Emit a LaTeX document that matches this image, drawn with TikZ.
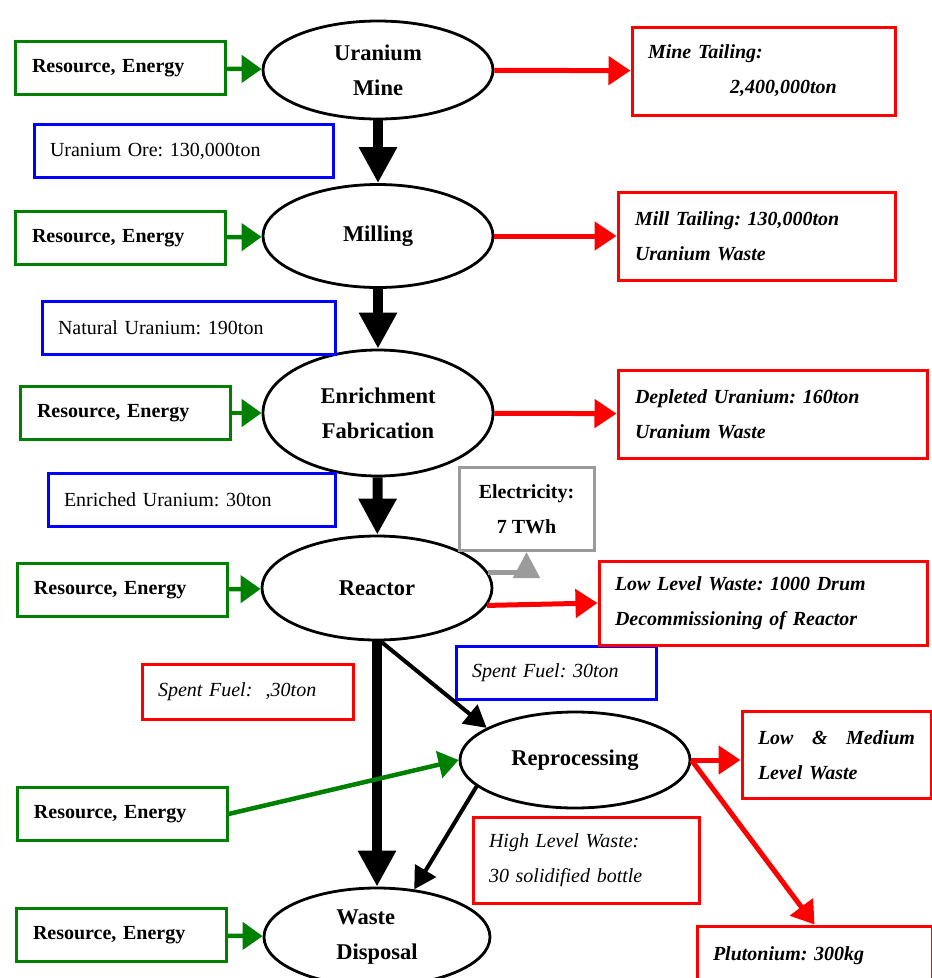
\documentclass[tikz,border=0pt]{standalone}
\usepackage{fontspec}
\setmainfont{Liberation Serif}
\usepackage{tikz}
\usetikzlibrary{shapes.geometric}
\usetikzlibrary{arrows.meta}

\definecolor{resgreen}{RGB}{0,128,0}
\definecolor{flowblue}{RGB}{0,0,255}
\definecolor{wastered}{RGB}{255,0,0}
\definecolor{elecgray}{RGB}{155,155,155}
\frenchspacing

\begin{document}
\begin{tikzpicture}[x=1pt,y=-1pt,
      every node/.style={shape=rectangle,align=left,inner sep=0pt,font=\fontsize{20}{35}\selectfont},
      stage/.style={shape=ellipse,draw,line width=2.8pt,minimum width=230pt,minimum height=98pt,align=center,font=\fontsize{22.5}{35}\selectfont\bfseries},
      supply/.style={draw=resgreen,line width=3pt,minimum width=210pt,minimum height=53pt,text width=176pt,font=\fontsize{20}{35}\selectfont\bfseries},
      amount/.style={draw=flowblue,line width=3pt,minimum height=53pt},
      waste/.style={draw=wastered,line width=3pt},
      feed/.style={draw=resgreen,line width=4.5pt,-{Triangle[length=20pt,width=27pt]}},
      dump/.style={draw=wastered,line width=5pt,-{Triangle[length=22pt,width=28pt]}},
      mainflow/.style={line width=10pt,-{Triangle[length=36pt,width=36pt]}},
      sideflow/.style={line width=4pt,-{Triangle[length=22pt,width=24pt]}},
      elec/.style={draw=elecgray,line width=5pt,-{Triangle[length=26pt,width=26pt]}}]
  \useasboundingbox (0,0) rectangle (932,978);
  \clip (0,0) rectangle (932,978);

  % stages
  \node[stage] (mine) at (378,70) {Uranium\\Mine};
  \node[stage,minimum height=103pt] (mill) at (378,236) {Milling};
  \node[stage,minimum height=126pt] (enrich) at (378,413) {Enrichment\\Fabrication};
  \node[stage,minimum height=104pt] (reactor) at (377,588) {Reactor};
  \node[stage,minimum height=96pt] (repro) at (575,760) {Reprocessing};
  \node[stage,align=left,minimum width=226pt] (disposal) at (377,937) {Waste\\Disposal};

  % inputs
  \node[supply] (res1) at (120,68) {Resource, Energy};
  \node[supply] (res2) at (120,238) {Resource, Energy};
  \node[supply] (res3) at (125,413) {Resource, Energy};
  \node[supply] (res4) at (122,590) {Resource, Energy};
  \node[supply] (res5) at (122,814) {Resource, Energy};
  \node[supply] (res6) at (121,935) {Resource, Energy};

  % material flows
  \node[amount,minimum width=299pt,text width=267pt] (ore) at (183.5,151) {Uranium Ore: 130,000ton};
  \node[amount,minimum width=293pt,text width=261pt] (natural) at (188.5,328) {Natural Uranium: 190ton};
  \node[amount,minimum width=287pt,text width=255pt] (enriched) at (191.5,500) {Enriched Uranium: 30ton};
  \node[amount,minimum width=200pt,text width=168pt,font=\fontsize{20}{35}\selectfont\itshape] (spent) at (556,673) {Spent Fuel: 30ton};

  % wastes
  \node[waste,minimum width=263pt,minimum height=88pt,text width=231pt,font=\fontsize{20}{35}\selectfont\bfseries\itshape] (mtail) at (763.5,71) {Mine Tailing:\\\hspace*{82pt}2,400,000ton};
  \node[waste,minimum width=277pt,minimum height=88pt,text width=243pt,font=\fontsize{20}{35}\selectfont\bfseries\itshape] (milltail) at (756.5,236) {Mill Tailing: 130,000ton\\Uranium Waste};
  \node[waste,minimum width=309pt,minimum height=88pt,text width=275pt,font=\fontsize{20}{35}\selectfont\bfseries\itshape] (depleted) at (772.5,414) {Depleted Uranium: 160ton\\Uranium Waste};
  \node[waste,minimum width=328pt,minimum height=84pt,text width=296pt,font=\fontsize{20}{35}\selectfont\bfseries\itshape] (llw) at (763,603) {Low Level Waste: 1000 Drum\\Decommissioning of Reactor};
  \node[waste,minimum width=211pt,minimum height=55pt,text width=179pt,font=\fontsize{20}{35}\selectfont\itshape] (spentw) at (247.5,692) {Spent Fuel:~~,30ton};
  \node[waste,minimum width=189pt,minimum height=87pt,text width=157pt,font=\fontsize{20}{35}\selectfont\bfseries\itshape] (lmw) at (836.5,755) {Low\hfill\&\hfill Medium\\Level Waste};
  \node[waste,minimum width=226pt,minimum height=86pt,text width=194pt,font=\fontsize{20}{35}\selectfont\itshape] (hlw) at (586,860) {High Level Waste:\\30 solidified bottle};
  \node[waste,minimum width=235pt,minimum height=60pt,text width=203pt,font=\fontsize{20}{35}\selectfont\bfseries\itshape] (pu) at (814.5,956) {Plutonium: 300kg};

  % product
  \node[draw=elecgray,line width=3pt,minimum width=135pt,minimum height=83pt,align=center,font=\fontsize{20}{35}\selectfont\bfseries] (power) at (526.5,509) {Electricity:\\7 TWh};

  % connectors
  \draw[mainflow] (mine) -- (mill);
  \draw[mainflow] (mill) -- (enrich);
  \draw[mainflow] (enrich) -- (reactor);
  \draw[mainflow] (reactor) -- (disposal);
  \draw[sideflow] (reactor.-86) -- (repro.160);
  \draw[sideflow] (repro.195) -- (disposal.52);

  \draw[feed] (res1) -- (mine);
  \draw[feed] (res2) -- (mill);
  \draw[feed] (res3) -- (enrich);
  \draw[feed] (res4) -- (reactor);
  \draw[feed] (res5.east) -- (repro.west);
  \draw[feed] (res6) -- (disposal);

  \draw[dump] (mine) -- (mtail);
  \draw[dump] (mill) -- (milltail);
  \draw[dump] (enrich) -- (depleted);
  \draw[dump] (reactor.-9) -- (llw.west);
  \draw[dump] (repro.east) -- (repro.east -| lmw.west);
  \draw[dump] (repro.east) -- (pu.north);

  \draw[elec] (reactor.8) -| (power.south);
\end{tikzpicture}
\end{document}
